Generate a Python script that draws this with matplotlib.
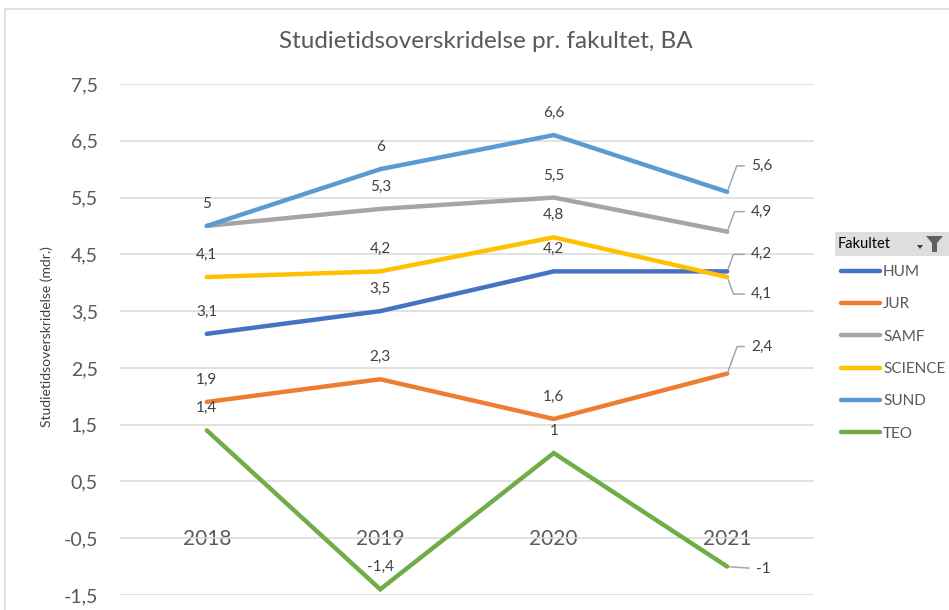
import numpy as np
import matplotlib.pyplot as plt
from matplotlib.patches import Rectangle, Polygon
from matplotlib.lines import Line2D
from matplotlib.ticker import FuncFormatter

plt.rcParams['font.family'] = ['Lato', 'DejaVu Sans']

# data
years = ['2018', '2019', '2020', '2021']
hum = [3.1, 3.5, 4.2, 4.2]
jur = [1.9, 2.3, 1.6, 2.4]
samf = [5.0, 5.3, 5.5, 4.9]
science = [4.1, 4.2, 4.8, 4.1]
sund = [5.0, 6.0, 6.6, 5.6]
teo = [1.4, -1.4, 1.0, -1.0]

names = ['HUM', 'JUR', 'SAMF', 'SCIENCE', 'SUND', 'TEO']
series = [hum, jur, samf, science, sund, teo]
colors = ['#4472C4', '#ED7D31', '#A5A5A5', '#FFC000', '#5B9BD5', '#70AD47']

# labels for 2021 were dragged aside in excel (offset in pixels: dx to text start, dy)
end_off = {'HUM': (24, 17), 'JUR': (24, 27), 'SAMF': (24, 20),
           'SCIENCE': (24, -17), 'SUND': (24, 26), 'TEO': (29, -2)}

W, H = 949, 610
fig = plt.figure(figsize=(W / 100, H / 100), dpi=100)
ax = fig.add_axes([120 / W, 15 / H, 694 / W, 511 / H])

def fmt(v):
    s = ('%.1f' % v).rstrip('0').rstrip('.')
    return s.replace('.', ',')

x = np.arange(len(years))
for name, vals, col in zip(names, series, colors):
    ax.plot(x, vals, color=col, lw=3.2, solid_capstyle='round', solid_joinstyle='miter', label=name)

label_col = '#404040'
for name, vals in zip(names, series):
    for i, v in enumerate(vals[:-1]):
        # SAMF and SUND both 5 in 2018 -> one label
        if name == 'SAMF' and i == 0:
            continue
        ax.annotate(fmt(v), (x[i], v), xytext=(0, 22), textcoords='offset pixels',
                    ha='center', va='center', fontsize=11, color=label_col)
    dx, dy = end_off[name]
    if abs(dy) < 5:
        cs = 'arc3'
    else:
        cs = 'angle,angleA=0,angleB=%d' % (70 if dy > 0 else -70)
    ax.annotate(fmt(vals[-1]), (x[-1], vals[-1]), xytext=(dx, dy), textcoords='offset pixels',
                ha='left', va='center', fontsize=11, color=label_col,
                arrowprops=dict(arrowstyle='-', color='#a6a6a6', lw=1.1, shrinkA=3, shrinkB=2,
                                relpos=(0, 0.5), connectionstyle=cs))

ax.set_xlim(-0.5, 3.5)
ax.set_ylim(-1.5, 7.5)
ax.set_yticks(np.arange(-1.5, 7.6, 1))
ax.yaxis.set_major_formatter(FuncFormatter(lambda v, p: fmt(v)))
ax.set_xticks(x)
ax.set_xticklabels(years)
ax.spines['bottom'].set_position(('data', 0))
for s in ax.spines.values():
    s.set_visible(False)
ax.tick_params(axis='y', length=0, pad=16, labelsize=14, labelcolor='#595959')
ax.tick_params(axis='x', length=0, pad=14, labelsize=15, labelcolor='#595959')
ax.grid(axis='y', color='#d9d9d9', lw=1.1)
ax.set_axisbelow(True)

fig.text(486 / W, 1 - 42 / H, 'Studietidsoverskridelse pr. fakultet, BA',
         ha='center', va='center', fontsize=17.5, color='#595959')
fig.text(47 / W, 1 - 337 / H, 'Studietidsoverskridelse (mdr.)', rotation=90,
         ha='center', va='center', fontsize=10, color='#404040')

# chart border
fig.add_artist(Rectangle((5 / W, -0.2), 1.2, 1.2 - 9 / H, transform=fig.transFigure,
                         fill=False, ec='#d9d9d9', lw=1.2))

# pivot legend header
fig.add_artist(Rectangle((835 / W, 1 - 256 / H), 120 / W, 24 / H, transform=fig.transFigure,
                         fc='#dedede', ec='none'))
fig.text(838 / W, 1 - 244 / H, 'Fakultet', ha='left', va='center', fontsize=10.5, color='#000000')
fig.add_artist(Polygon([[917 / W, 1 - 245 / H], [923 / W, 1 - 245 / H], [920 / W, 1 - 249 / H]],
                       closed=True, transform=fig.transFigure, fc='#404040', ec='none'))
fig.add_artist(Polygon([[926 / W, 1 - 236 / H], [943 / W, 1 - 236 / H], [937 / W, 1 - 243 / H],
                        [937 / W, 1 - 252 / H], [932 / W, 1 - 252 / H], [932 / W, 1 - 243 / H]],
                       closed=True, transform=fig.transFigure, fc='#606060', ec='none'))

handles = [Line2D([], [], color=c, lw=3.2, solid_capstyle='round') for c in colors]
fig.legend(handles, names, loc='upper left', bbox_to_anchor=(841 / W, 1 - 265 / H),
           frameon=False, fontsize=11, labelcolor='#595959', handlelength=2.55,
           handletextpad=0.2, labelspacing=1.2, borderpad=0, borderaxespad=0)

fig.savefig('out.png', dpi=100)
